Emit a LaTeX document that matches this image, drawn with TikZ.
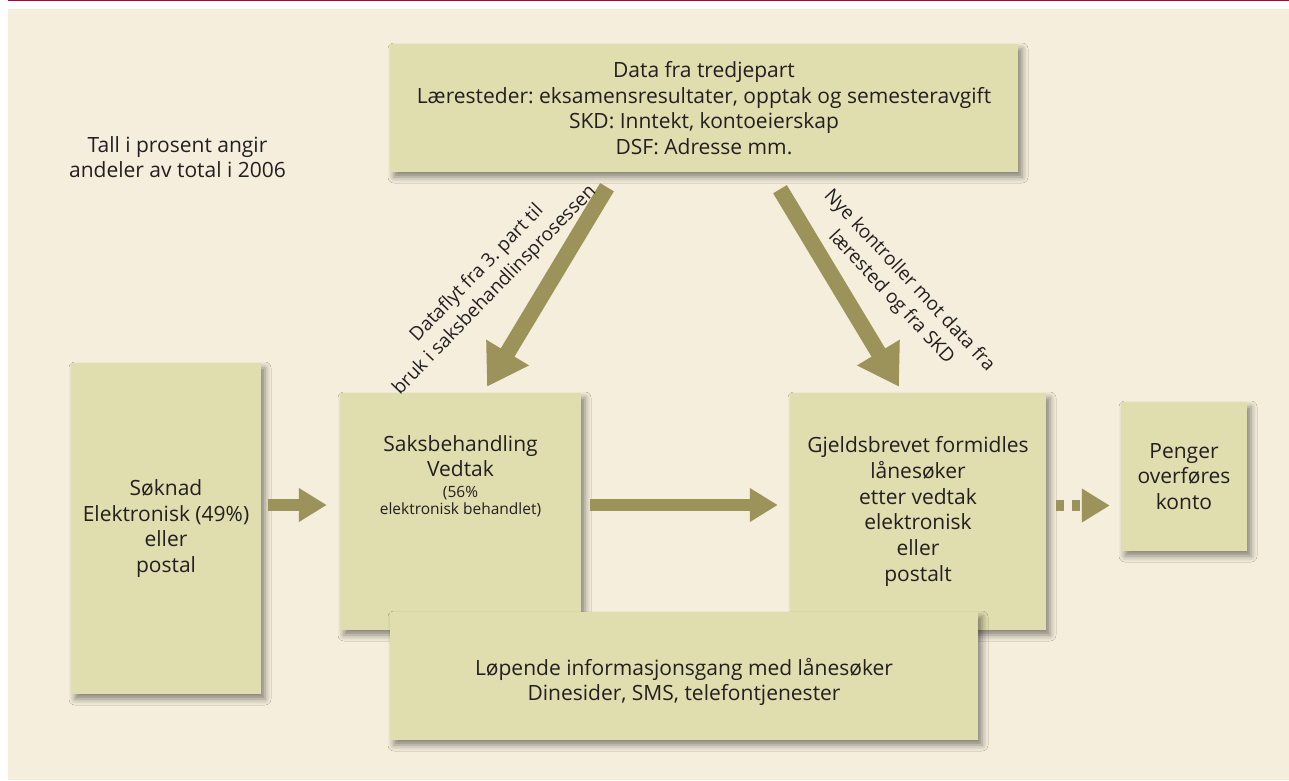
\documentclass[tikz,border=0pt]{standalone}
\usepackage{fontspec}
\setmainfont{Open Sans}
\usetikzlibrary{arrows.meta, positioning, shadows.blur}
\definecolor{pagebg}{RGB}{245,238,220}
\definecolor{boxfill}{RGB}{224,221,175}
\definecolor{arrowolive}{RGB}{155,147,90}
\definecolor{toprule}{RGB}{176,0,58}
\definecolor{inktext}{RGB}{35,31,32}
\newcommand{\smalltxt}{\fontsize{15.5}{17}\selectfont}
\frenchspacing

\begin{document}
\begin{tikzpicture}[x=1pt, y=-1pt,
    box/.style={fill=boxfill, inner sep=0pt, align=center, text=inktext,
                font=\fontsize{21}{25.7}\selectfont,
                blur shadow={shadow xshift=4pt, shadow yshift=-5pt,
                             shadow blur radius=6pt, shadow opacity=45}},
    lbl/.style={align=center, text=inktext, font=\fontsize{21}{25.7}\selectfont},
    note/.style={align=center, text=inktext, font=\fontsize{21}{25}\selectfont},
    slant/.style={align=center, text=inktext, font=\fontsize{19}{24.5}\selectfont},
    bigarr/.style={arrowolive, line width=16pt, -{Triangle[length=40pt, width=47pt]}},
    flatarr/.style={arrowolive, line width=12pt, -{Triangle[length=28pt, width=32pt]}},
    dotarr/.style={flatarr, line width=11pt, dash pattern=on 8pt off 8pt}
  ]
    \useasboundingbox (0,0) rectangle (1289,780);
    \fill[white] (0,0) rectangle (1289,780);
    \fill[pagebg] (8,9) rectangle (1289,780);
    \fill[toprule] (8,0) rectangle (1289,1.3);

    \node[note] (tall) at (177.5,157.5) {Tall i prosent angir\\andeler av total i 2006};

    \node[box, minimum width=628pt, minimum height=128pt] (data) at (704,108)
      {Data fra tredjepart\\Læresteder: eksamensresultater, opptak og semesteravgift\\SKD: Inntekt, kontoeierskap\\DSF: Adresse mm.};
    \node[box, minimum width=190pt, minimum height=331pt] (soknad) at (166,528.5)
      {Søknad\\Elektronisk (49\%)\\eller\\postal};
    \node[box, minimum width=241pt, minimum height=237pt,
          label={[lbl, yshift=34pt]center:Saksbehandling\\Vedtak\\[-5pt]
                 \smalltxt\begin{tabular}[t]{@{}c@{}}(56\%\\elektronisk behandlet)\end{tabular}}]
      (saks) at (460.5,511.5) {};
    \node[box, minimum width=256pt, minimum height=237pt] (gjelds) at (918,511.5)
      {Gjeldsbrevet formidles\\lånesøker\\etter vedtak\\elektronisk\\eller\\postalt};
    \node[box, minimum width=126pt, minimum height=149pt] (penger) at (1184,476.5)
      {Penger\\overføres\\konto};
    \node[box, minimum width=588pt, minimum height=128pt,
          label={[lbl, yshift=-6pt]center:Løpende informasjonsgang med lånesøker\\Dinesider, SMS, telefontjenester}]
      (lopende) at (684,676) {};

    % flow between the boxes
    \draw[flatarr] ([xshift=7pt, yshift=23.5pt]soknad.east) -- ([xshift=-13pt, yshift=6.5pt]saks.west);
    \draw[flatarr] ([xshift=9pt, yshift=6.5pt]saks.east) -- ([xshift=-12pt, yshift=6.5pt]gjelds.west);
    \draw[dotarr] ([xshift=10pt, yshift=6pt]gjelds.east) -- ([xshift=-11pt, yshift=-29pt]penger.west);

    % third-party data going down
    \draw[bigarr] ([xshift=-97pt, yshift=-15pt]data.south) -- ([xshift=26.5pt, yshift=6pt]saks.north);
    \draw[bigarr] ([xshift=76pt, yshift=-17pt]data.south) -- ([xshift=-19pt, yshift=6pt]gjelds.north);

    \node[slant, rotate=46] (dataflyt) at (486,282) {Dataflyt fra 3. part til\\bruk i saksbehandlinsprosessen};
    \node[slant, rotate=-47] (kontroll) at (900,289) {Nye kontroller mot data fra\\lærested og fra SKD};
  \end{tikzpicture}
\end{document}
